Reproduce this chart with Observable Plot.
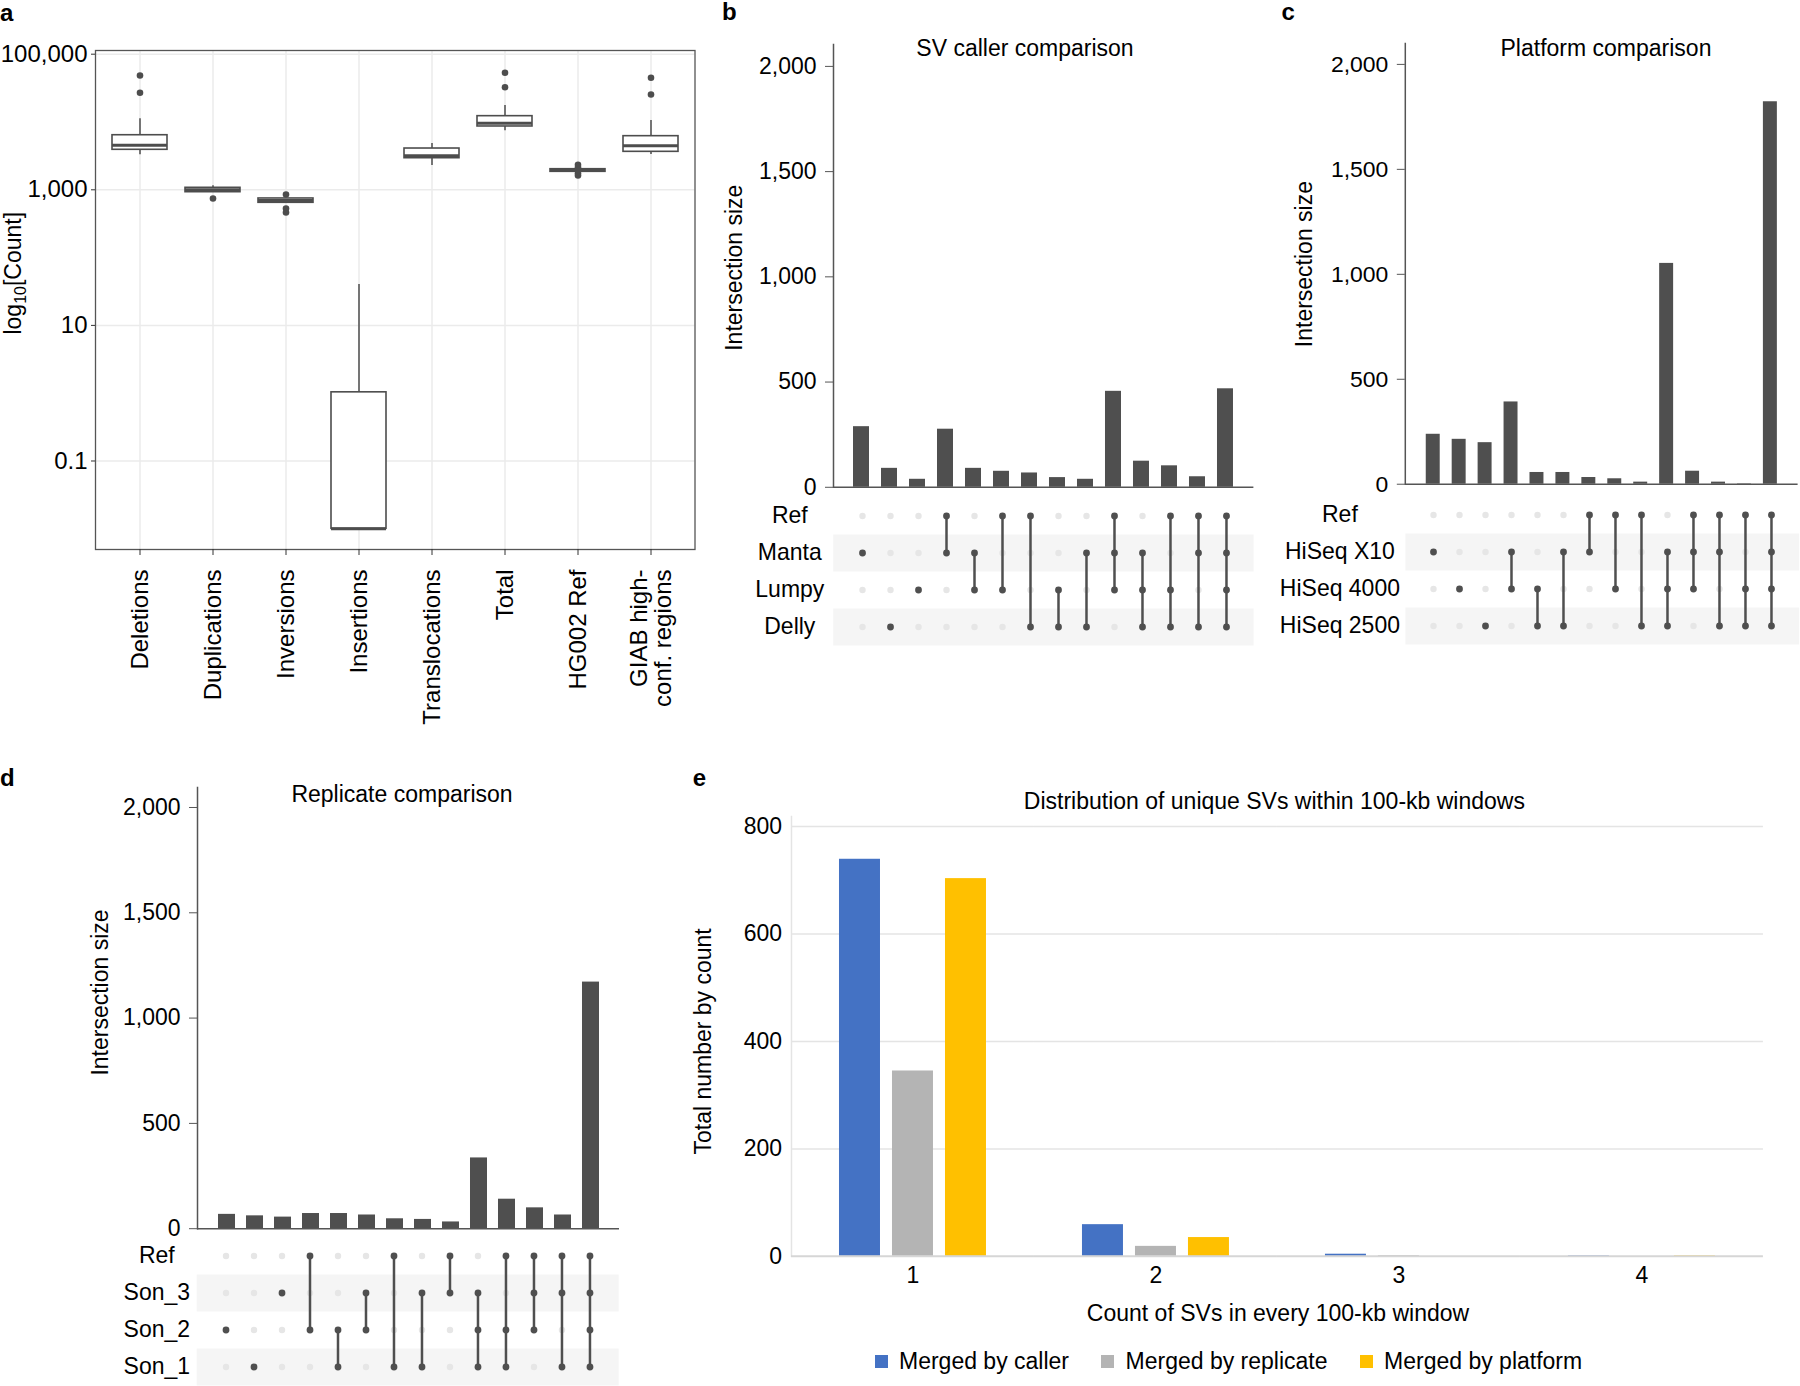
<!DOCTYPE html>
<html><head><meta charset="utf-8">
<script src="https://cdn.jsdelivr.net/npm/d3@7"></script>
<script src="https://cdn.jsdelivr.net/npm/@observablehq/plot@0.6"></script>
<style>
html,body{margin:0;padding:0;background:#fff;overflow:hidden}
#fig{position:relative;width:1800px;height:1386px;font-family:"Liberation Sans",Arial,Helvetica,sans-serif;}
.pane{position:absolute}
.pane svg{display:block}
.eleg-swatch{margin-right:32px !important}
</style></head><body><div id="fig"></div>
<script>
// ---------- Panel a: box statistics (log10 count) ----------
const aCategories = ["Deletions","Duplications","Inversions","Insertions","Translocations","Total","HG002 Ref","GIAB high-\nconf. regions"];
const aWhiskerLow  = [3281, 922, 643, 0.01, 2281, 7410, 1842, 3318];
const aQ1          = [3890, 922, 643, 0.01, 2924, 8590, 1842, 3632];
const aMedian      = [4549, 1000, 695, 0.01, 3171, 9590, 1926, 4457];
const aQ3          = [6383, 1070, 745, 1.03, 4064, 12190, 2013, 6180];
const aWhiskerHigh = [11140, 1146, 745, 40, 4818, 17500, 2013, 10520];
const aOutlierCategory = ["Deletions","Deletions","Duplications","Inversions","Inversions","Inversions","Total","Total","HG002 Ref","HG002 Ref","HG002 Ref","HG002 Ref","GIAB high-\nconf. regions","GIAB high-\nconf. regions"];
const aOutlierValue    = [48500, 26980, 745, 852, 530, 463, 53200, 32600, 2337, 2154, 1758, 1625, 44870, 25470];
const aTicks = [0.1, 10, 1000, 100000];

// ---------- UpSet panels ----------
const upTicks = [0, 500, 1000, 1500, 2000];
const bSets = ["Ref","Manta","Lumpy","Delly"];
const bValues = [288, 90, 38, 276, 90, 76, 68, 46, 38, 456, 124, 102, 50, 468];
const bMembers = [["Manta"],["Delly"],["Lumpy"],["Ref","Manta"],["Manta","Lumpy"],["Ref","Lumpy"],["Ref","Delly"],["Lumpy","Delly"],["Manta","Delly"],["Ref","Manta","Lumpy"],["Manta","Lumpy","Delly"],["Ref","Lumpy","Delly"],["Ref","Manta","Delly"],["Ref","Manta","Lumpy","Delly"]];

const cSets = ["Ref","HiSeq X10","HiSeq 4000","HiSeq 2500"];
const cValues = [238, 214, 198, 392, 56, 56, 32, 26, 10, 1052, 62, 10, 2, 1822];
const cMembers = [["HiSeq X10"],["HiSeq 4000"],["HiSeq 2500"],["HiSeq X10","HiSeq 4000"],["HiSeq 4000","HiSeq 2500"],["HiSeq X10","HiSeq 2500"],["Ref","HiSeq X10"],["Ref","HiSeq 4000"],["Ref","HiSeq 2500"],["HiSeq X10","HiSeq 4000","HiSeq 2500"],["Ref","HiSeq X10","HiSeq 4000"],["Ref","HiSeq X10","HiSeq 2500"],["Ref","HiSeq 4000","HiSeq 2500"],["Ref","HiSeq X10","HiSeq 4000","HiSeq 2500"]];

const dSets = ["Ref","Son_3","Son_2","Son_1"];
const dValues = [68, 61, 55, 72, 72, 65, 47, 44, 32, 336, 140, 99, 65, 1171];
const dMembers = [["Son_2"],["Son_1"],["Son_3"],["Ref","Son_2"],["Son_2","Son_1"],["Son_3","Son_2"],["Ref","Son_1"],["Son_3","Son_1"],["Ref","Son_3"],["Son_3","Son_2","Son_1"],["Ref","Son_2","Son_1"],["Ref","Son_3","Son_2"],["Ref","Son_3","Son_1"],["Ref","Son_3","Son_2","Son_1"]];

// ---------- Panel e ----------
const eCounts = ["1","2","3","4"];
const eSeries = ["Merged by caller","Merged by replicate","Merged by platform"];
const eCaller    = [739, 59, 4, 1];
const eReplicate = [345, 18.6, 1.5, 0];
const ePlatform  = [703, 35, 0, 1];
const eColors = ["#4472C4","#B4B4B4","#FFC000"];
const eTicks = [0, 200, 400, 600, 800];

// ---------- helpers ----------
const FONT = '"Liberation Sans", Arial, Helvetica, sans-serif';
const fig = document.getElementById("fig");
function place(node, left, top) {
  const d = document.createElement("div");
  d.className = "pane"; d.style.left = left + "px"; d.style.top = top + "px";
  d.appendChild(node); fig.appendChild(d); return d;
}
const st = (fs) => ({fontFamily: FONT, fontSize: fs + "px", background: "transparent", color: "#000", overflow: "visible"});

// ---------- Panel a ----------
const aStats = aCategories.map((c, i) => ({cat: c, lo: aWhiskerLow[i], q1: aQ1[i], med: aMedian[i], q3: aQ3[i], hi: aWhiskerHigh[i]}));
const aOutliers = aOutlierCategory.map((c, i) => ({cat: c, v: aOutlierValue[i]}));
const BOXC = "#4d4d4d";
const aPlot = Plot.plot({
  width: 720, height: 740,
  marginLeft: 95, marginTop: 50, marginRight: 25.5, marginBottom: 191,
  style: st(24),
  x: {domain: aCategories, type: "band", paddingInner: 0.25, paddingOuter: 0.225, label: null},
  y: {type: "log", domain: [0.00495, 113400], label: null},
  marks: [
    Plot.gridY(aTicks, {stroke: "#ebebeb", strokeOpacity: 1, strokeWidth: 1.5}),
    Plot.gridX({stroke: "#ebebeb", strokeOpacity: 1, strokeWidth: 1.5}),
    Plot.ruleX(aStats, {x: "cat", y1: "lo", y2: "hi", stroke: BOXC, strokeWidth: 1.5}),
    Plot.barY(aStats, {x: "cat", y1: "q1", y2: "q3", fill: "white", stroke: BOXC, strokeWidth: 1.6}),
    Plot.tickY(aStats, {x: "cat", y: "med", stroke: BOXC, strokeWidth: 3}),
    Plot.dot(aOutliers, {x: "cat", y: "v", r: 3.3, fill: BOXC}),
    Plot.frame({stroke: "#555", strokeWidth: 1.3}),
    Plot.axisY(aTicks, {tickFormat: d3.format(","), tickSize: 4, tickPadding: 4, stroke: "#333", fill: "#000"}),
    Plot.axisX({tickRotate: -90, tickSize: 6, tickPadding: 14, stroke: "#333", fill: "#000", label: null})
  ]
});
place(aPlot, 0, 0);

// ---------- UpSet builder ----------
const BAR = "#4f4f4f", AX = "#555";
function upset(sets, values, members, g) {
  const cols = values.map((v, i) => i + 1);
  const colData = values.map((v, i) => ({col: i + 1, value: v}));
  const xScale = {domain: cols, type: "band", paddingInner: g.pi, paddingOuter: 0.5 + g.pi / 2, axis: null};
  const mT = 20, mB = 12, mL = 80;
  const yTop = 2000 + (g.y2000 - g.axisTop) / ((g.y0 - g.y2000) / 2000);
  const bars = Plot.plot({
    width: mL + g.W + 2, height: mT + (g.y0 - g.axisTop) + mB,
    marginLeft: mL, marginRight: 2, marginTop: mT, marginBottom: mB,
    style: st(23),
    x: xScale,
    y: {domain: [0, yTop], label: null},
    marks: [
      Plot.barY(colData, {x: "col", y: "value", fill: BAR}),
      Plot.ruleY([0], {stroke: AX, strokeWidth: 1.5}),
      Plot.frame({anchor: "left", stroke: AX, strokeWidth: 1.5}),
      Plot.axisY(upTicks, {tickFormat: d3.format(","), tickSize: 8, tickPadding: 9, stroke: AX, fill: "#000", label: null})
    ]
  });
  place(bars, g.axisX - mL, g.axisTop - mT);

  const cells = [];
  members.forEach((m, i) => sets.forEach(s => cells.push({col: i + 1, set: s, on: m.includes(s)})));
  const shaded = sets.filter((s, i) => i % 2 === 1);
  const mLeft = g.axisX - g.matrixLeft;
  const matrix = Plot.plot({
    width: mLeft + g.W, height: g.rowH * sets.length,
    marginLeft: mLeft, marginRight: 0, marginTop: 0, marginBottom: 0,
    style: st(23),
    x: xScale,
    y: {domain: sets, type: "band", padding: 0, label: null},
    marks: [
      Plot.ruleY(shaded, {y: d => d, stroke: "#f5f5f5", strokeWidth: g.rowH}),
      Plot.dot(cells.filter(d => !d.on), {x: "col", y: "set", r: 3.2, fill: "#e6e6e6"}),
      Plot.line(cells.filter(d => d.on), {x: "col", y: "set", z: "col", stroke: BAR, strokeWidth: 2.5}),
      Plot.dot(cells.filter(d => d.on), {x: "col", y: "set", r: 3.4, fill: BAR}),
      Plot.axisY({tickSize: 0, tickPadding: g.labelOffset, textAnchor: "middle", fill: "#000", label: null})
    ]
  });
  place(matrix, g.matrixLeft, g.rowTop);
}

upset(bSets, bValues, bMembers, {axisX: 833.2, W: 420.4, axisTop: 44.2, y0: 487, y2000: 66.1, pi: 0.44, rowTop: 496.8, rowH: 37.03, labelOffset: 43.9, matrixLeft: 740});
upset(cSets, cValues, cMembers, {axisX: 1405.4, W: 393.8, axisTop: 43.4, y0: 485.3, y2000: 64.4, pi: 0.45, rowTop: 495.6, rowH: 37.03, labelOffset: 66, matrixLeft: 1270});
upset(dSets, dValues, dMembers, {axisX: 196.7, W: 422, axisTop: 787.1, y0: 1228.3, y2000: 807.1, pi: 0.41, rowTop: 1236.5, rowH: 37.0, labelOffset: 40.4, matrixLeft: 110});

// ---------- Panel e ----------
const eValues = [eCaller, eReplicate, ePlatform];
const eRows = eCounts.flatMap((c, i) => eSeries.map((s, j) => ({count: c, series: s, value: eValues[j][i]})));
const eL = 100, eR = 35, eT = 6, eB = 40, eW = 975.7, eH = 439.9;
const ePlot = Plot.plot({
  width: eL + eW + eR, height: eT + eH + eB,
  marginLeft: eL, marginRight: eR, marginTop: eT, marginBottom: eB,
  style: st(23),
  fx: {domain: eCounts, padding: 0, label: null},
  x: {domain: eSeries, type: "band", paddingInner: 0.217, paddingOuter: 0.875, axis: null},
  y: {domain: [0, 818.6], label: null},
  color: {domain: eSeries, range: eColors},
  marks: [
    Plot.gridY([200, 400, 600, 800], {stroke: "#e4e4e4", strokeOpacity: 1, strokeWidth: 1.5}),
    Plot.frame({anchor: "left", facetAnchor: "left", stroke: "#e4e4e4", strokeWidth: 1.5}),
    Plot.barY(eRows, {fx: "count", x: "series", y: "value", fill: "series"}),
    Plot.ruleY([0], {stroke: "#d6d6d6", strokeWidth: 2}),
    Plot.axisY(eTicks, {tickSize: 0, tickPadding: 9.4, fill: "#000", label: null}),
    Plot.axisFx({anchor: "bottom", tickSize: 0, tickPadding: 10, fill: "#000", label: null})
  ]
});
place(ePlot, 789.4 - eL, 815.9 - eT);
const eLegend = ePlot.legend("color", {swatchSize: 13, className: "eleg", style: {fontFamily: FONT, fontSize: "23px", color: "#000"}});
place(eLegend, 874.5, 1345);

// ---------- Text overlay: panel letters, titles, axis titles ----------
const ov = d3.select(fig).append("svg")
  .attr("width", 1800).attr("height", 1386)
  .style("position", "absolute").style("left", "0px").style("top", "0px")
  .style("pointer-events", "none").style("overflow", "visible")
  .attr("font-family", FONT);
const letters = [["a", 0, 21], ["b", 722, 20], ["c", 1281.6, 20], ["d", 0, 786], ["e", 692.7, 786]];
letters.forEach(([t, x, y]) => ov.append("text").attr("x", x).attr("y", y).attr("font-size", 24).attr("font-weight", "bold").text(t));
const titles = [["SV caller comparison", 1025, 56], ["Platform comparison", 1606, 56], ["Replicate comparison", 402, 802],
  ["Distribution of unique SVs within 100-kb windows", 1274.4, 809], ["Count of SVs in every 100-kb window", 1278, 1321]];
titles.forEach(([t, x, y]) => ov.append("text").attr("x", x).attr("y", y).attr("font-size", 23).attr("text-anchor", "middle").text(t));
const vtitles = [["Intersection size", 742, 267.7], ["Intersection size", 1312, 264.1], ["Intersection size", 108, 992.5], ["Total number by count", 711.4, 1041.4]];
vtitles.forEach(([t, x, y]) => ov.append("text").attr("transform", `translate(${x},${y}) rotate(-90)`).attr("font-size", 23).attr("text-anchor", "middle").text(t));
const lt = ov.append("text").attr("transform", "translate(21.1,273.2) rotate(-90)").attr("font-size", 23).attr("text-anchor", "middle");
lt.append("tspan").text("log");
lt.append("tspan").attr("font-size", 16).attr("dy", 5).text("10");
lt.append("tspan").attr("dy", -5).text("[Count]");
</script>
</body></html>
